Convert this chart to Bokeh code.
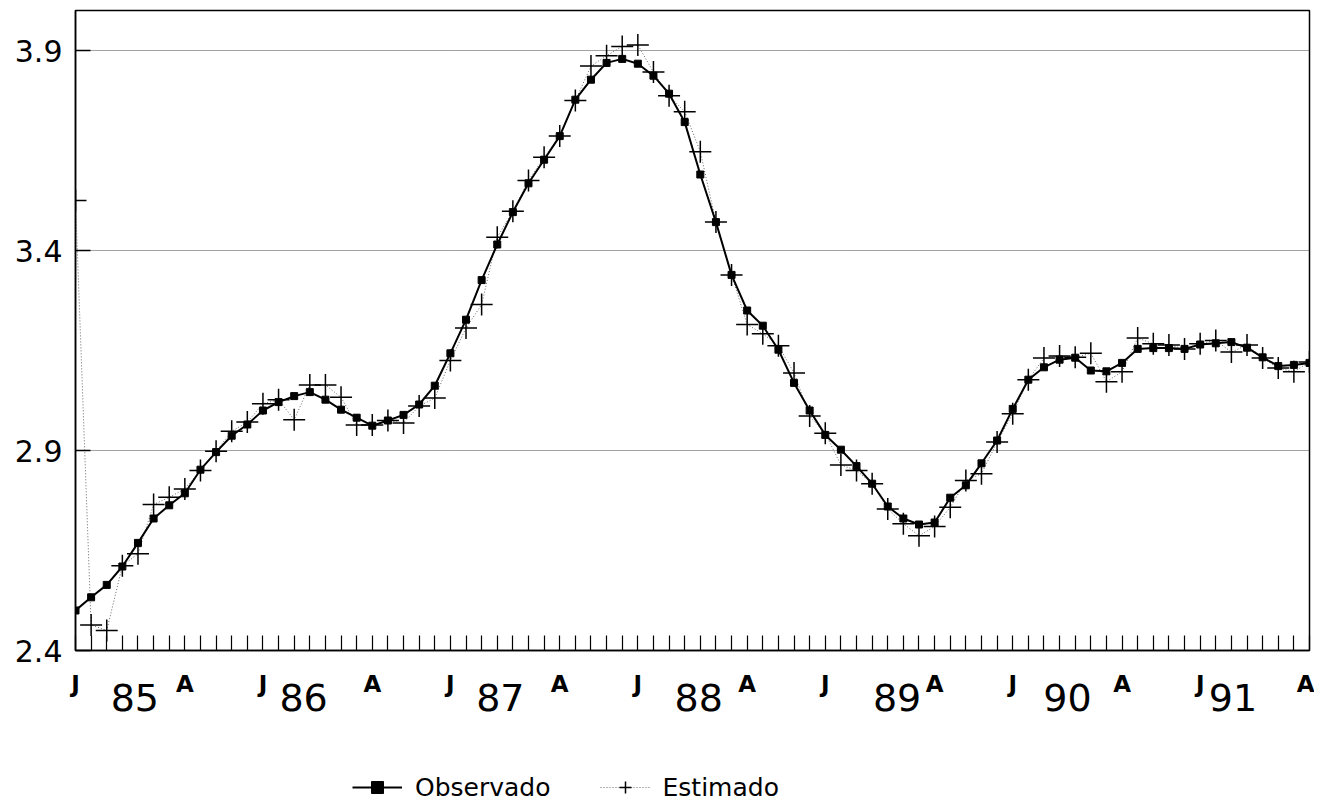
from bokeh.plotting import figure
from bokeh.layouts import column
from bokeh.models import Range1d, FixedTicker, LinearAxis, Legend, LegendItem
from bokeh.embed import file_html
from bokeh.resources import INLINE

# Monthly index: 0 = Jan 1985 ... 79 = Aug 1991
months = list(range(80))

observado = [
    2.500, 2.533, 2.564, 2.610, 2.669, 2.730, 2.763, 2.793, 2.852, 2.896,
    2.937, 2.965, 3.000, 3.021, 3.036, 3.046, 3.027, 3.002, 2.982, 2.962,
    2.975, 2.989, 3.015, 3.062, 3.143, 3.227, 3.326, 3.415, 3.496, 3.568,
    3.627, 3.686, 3.777, 3.827, 3.869, 3.879, 3.867, 3.837, 3.792, 3.721,
    3.590, 3.471, 3.339, 3.250, 3.212, 3.152, 3.069, 3.000, 2.939, 2.902,
    2.861, 2.817, 2.760, 2.730, 2.715, 2.720, 2.782, 2.813, 2.868, 2.925,
    3.004, 3.077, 3.108, 3.127, 3.132, 3.100, 3.098, 3.119, 3.154, 3.156,
    3.156, 3.154, 3.165, 3.168, 3.171, 3.157, 3.133, 3.111, 3.114, 3.119,
]

estimado = [
    3.525, 2.464, 2.450, 2.612, 2.642, 2.765, 2.783, 2.804, 2.850, 2.898,
    2.948, 2.971, 3.017, 3.027, 2.977, 3.064, 3.064, 3.033, 2.964, 2.964,
    2.975, 2.969, 3.011, 3.031, 3.125, 3.206, 3.265, 3.433, 3.498, 3.575,
    3.633, 3.686, 3.775, 3.861, 3.887, 3.910, 3.914, 3.846, 3.787, 3.747,
    3.647, 3.471, 3.339, 3.215, 3.192, 3.162, 3.094, 2.986, 2.943, 2.864,
    2.850, 2.817, 2.754, 2.717, 2.687, 2.710, 2.758, 2.825, 2.842, 2.921,
    2.992, 3.077, 3.131, 3.136, 3.133, 3.143, 3.072, 3.097, 3.181, 3.167,
    3.164, 3.154, 3.167, 3.175, 3.146, 3.164, 3.131, 3.106, 3.097, 3.121,
]

y_ticks = [2.4, 2.9, 3.4, 3.9]
year_labels = ["85", "86", "87", "88", "89", "90", "91"]
year_label_pos = [3.8, 14.6, 27.2, 39.9, 52.6, 63.5, 74.1]

# month tick labels: J (January) and A (August)
month_labels = {}
for m in months:
    if m % 12 == 0:
        month_labels[m] = "J"
    elif m % 12 == 7:
        month_labels[m] = "A"
    else:
        month_labels[m] = ""

FONT = "DejaVu Sans"
W = 1314

p = figure(width=W, height=740, output_backend="svg", toolbar_location=None,
           x_range=Range1d(0, 79), y_range=Range1d(2.4, 4.0),
           min_border_left=75, min_border_right=5, min_border_top=10,
           min_border_bottom=90)

p.outline_line_color = "black"
p.outline_line_width = 1.5
p.background_fill_color = "white"
p.border_fill_color = "white"

# x axis (month ticks, J / A labels)
p.xaxis.ticker = FixedTicker(ticks=months)
p.xaxis.major_label_overrides = {m: month_labels[m] for m in months}
p.xaxis.major_tick_in = 15
p.xaxis.major_tick_out = 0
p.xaxis.minor_tick_line_color = None
p.xaxis.major_tick_line_color = "black"
p.xaxis.major_tick_line_width = 1.2
p.xaxis.axis_line_color = "black"
p.xaxis.axis_line_width = 1.5
p.xaxis.major_label_text_font = FONT
p.xaxis.major_label_text_font_style = "bold"
p.xaxis.major_label_text_font_size = "23px"
p.xaxis.major_label_text_color = "black"
p.xaxis.major_label_standoff = 20

# year axis below the month labels
year_axis = LinearAxis(ticker=FixedTicker(ticks=year_label_pos),
                       major_label_overrides={pos: txt for pos, txt in zip(year_label_pos, year_labels)})
year_axis.axis_line_color = None
year_axis.major_tick_line_color = None
year_axis.minor_tick_line_color = None
year_axis.major_tick_in = 0
year_axis.major_tick_out = 0
year_axis.major_label_text_font = FONT
year_axis.major_label_text_font_size = "38px"
year_axis.major_label_text_color = "black"
year_axis.major_label_standoff = -16
p.add_layout(year_axis, "below")

# y axis
p.yaxis.ticker = FixedTicker(ticks=y_ticks)
p.yaxis.major_tick_in = 15
p.yaxis.major_tick_out = 0
p.yaxis.minor_tick_line_color = None
p.yaxis.major_tick_line_color = "black"
p.yaxis.major_tick_line_width = 1.5
p.yaxis.axis_line_color = "black"
p.yaxis.axis_line_width = 1.5
p.yaxis.major_label_text_font = FONT
p.yaxis.major_label_text_font_size = "30px"
p.yaxis.major_label_text_color = "black"
p.yaxis.major_label_standoff = 13

p.xgrid.grid_line_color = None
p.ygrid.ticker = FixedTicker(ticks=[2.9, 3.4, 3.9])
p.ygrid.grid_line_color = "#444444"
p.ygrid.grid_line_dash = "1 1"
p.ygrid.grid_line_width = 1

# series
p.line(months, estimado, line_color="#666666", line_width=1, line_dash="1 2")
p.scatter(months, estimado, marker="cross", size=22, line_color="black", line_width=1.5)
p.line(months, observado, line_color="black", line_width=2)
p.scatter(months, observado, marker="square", size=7, fill_color="black", line_color="black")

# legend strip below the chart (swatch renderers sit outside its visible range)
lg = figure(width=W, height=70, output_backend="svg", toolbar_location=None,
            x_range=Range1d(0, 1), y_range=Range1d(0, 1),
            min_border_left=0, min_border_right=0, min_border_top=0, min_border_bottom=0)
lg.axis.visible = False
lg.grid.visible = False
lg.outline_line_color = None
lg.border_fill_color = "white"
lg.background_fill_color = "white"
off = [-10, -9]
r1 = lg.line(off, off, line_color="black", line_width=2)
r2 = lg.scatter(off, off, marker="square", size=7, fill_color="black", line_color="black")
r3 = lg.line(off, off, line_color="#666666", line_width=1, line_dash="1 2")
r4 = lg.scatter(off, off, marker="cross", size=22, line_color="black", line_width=1.5)

legend = Legend(items=[LegendItem(label="Observado", renderers=[r1, r2]),
                       LegendItem(label="Estimado", renderers=[r3, r4])],
                orientation="horizontal", location=(277, 8))
legend.label_text_font = FONT
legend.label_text_font_size = "25px"
legend.label_text_color = "black"
legend.glyph_width = 50
legend.glyph_height = 30
legend.label_height = 30
legend.label_standoff = 13
legend.spacing = 49
legend.padding = 0
legend.margin = 0
legend.border_line_color = None
legend.background_fill_alpha = 0
lg.add_layout(legend)

layout = column(p, lg, spacing=0)
open("out.html", "w").write(file_html(layout, INLINE))
